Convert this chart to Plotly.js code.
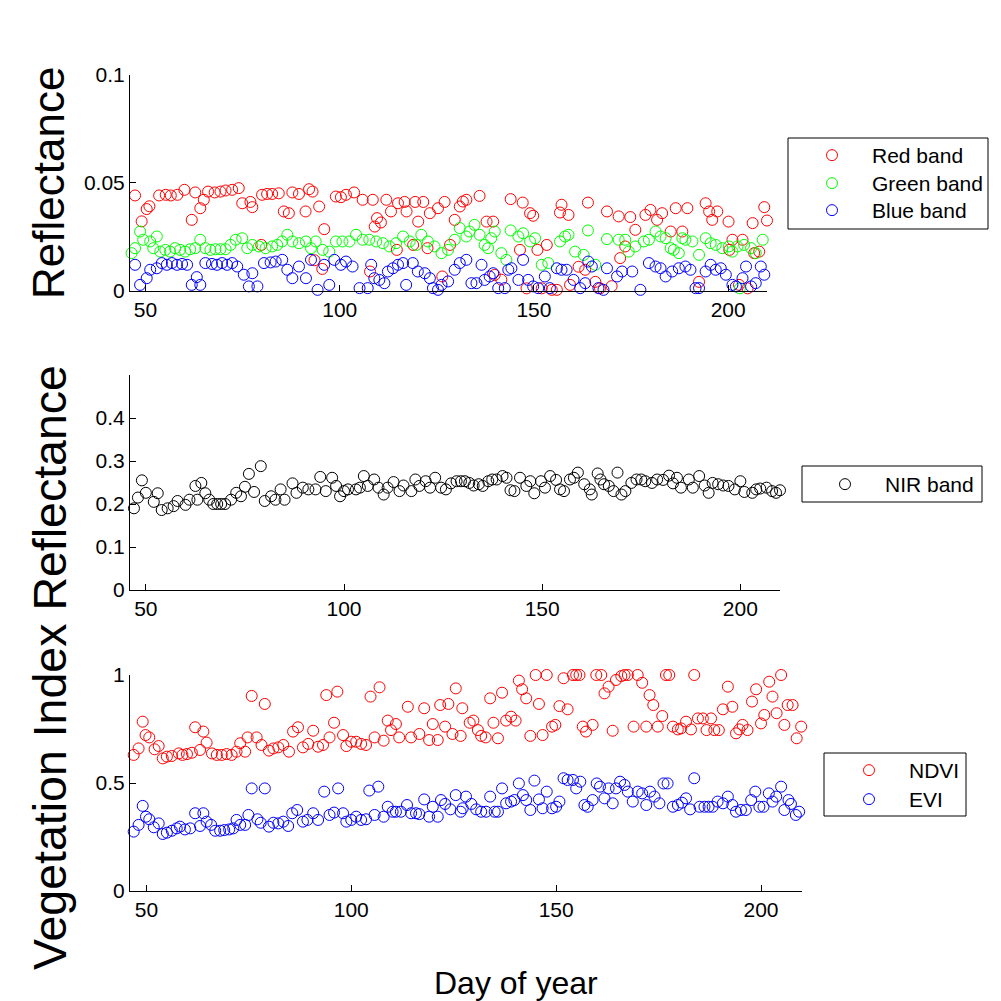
<!DOCTYPE html>
<html>
<head>
<meta charset="utf-8">
<script src="https://cdn.plot.ly/plotly-3.0.1.min.js"></script>
<style>html,body{margin:0;padding:0;background:#fff;}#chart{width:1001px;height:1001px;}</style>
</head>
<body>
<div id="chart"></div>
<script>
// ---------------- DATA ----------------
const xTicks = [50, 100, 150, 200];

const redDay = [47.3,49.0,50.3,51.0,53.5,55.2,56.5,58.2,60.0,61.9,62.8,64.1,65.0,66.1,67.8,69.3,70.6,72.3,74.0,74.9,77.0,77.5,79.8,80.0,81.3,82.6,84.3,85.6,86.9,87.8,89.5,91.2,92.1,93.0,93.5,94.7,95.5,96.0,99.0,100.3,101.6,103.7,105.9,107.8,108.5,109.0,109.6,110.6,112.0,113.2,114.7,115.0,116.7,117.2,118.9,119.4,120.2,121.5,122.6,123.2,125.3,126.4,127.0,128.4,129.6,130.9,131.7,132.6,136.0,137.8,139.5,139.9,141.6,144.0,146.4,147.1,148.1,149.0,149.8,150.9,152.0,153.3,154.6,155.9,156.7,157.1,158.9,159.3,161.5,163.2,163.9,165.8,167.0,168.8,170.0,171.8,172.2,173.5,174.8,176.1,178.7,180.0,181.7,183.0,185.2,186.5,188.2,189.5,192.5,194.2,195.1,195.9,197.2,200.1,200.3,201.1,202.8,203.7,205.0,206.3,206.7,208.0,209.3,210.0];
const redVal = [0.044,0.032,0.0377,0.039,0.044,0.0443,0.044,0.0443,0.0466,0.0327,0.0454,0.0381,0.042,0.0458,0.0454,0.0458,0.0463,0.0466,0.0474,0.0404,0.041,0.0386,0.0211,0.0443,0.0447,0.0447,0.045,0.0366,0.0358,0.0454,0.0447,0.0366,0.0469,0.0458,0.014,0.0389,0.010,0.0284,0.0435,0.0432,0.0443,0.0454,0.042,0.0088,0.042,0.0296,0.0335,0.0315,0.042,0.0366,0.0188,0.0404,0.041,0.0366,0.0211,0.041,0.0319,0.041,0.0196,0.0358,0.0381,0.0065,0.041,0.0211,0.0327,0.0389,0.0412,0.042,0.0438,0.0319,0.0319,0.0072,0.005,0.0423,0.0188,0.0407,0.001,0.0358,0.0346,0.0188,0.001,0.0211,0.0003,0.0003,0.0361,0.0397,0.035,0.0026,0.011,0.0096,0.0407,0.004,0.001,0.0366,0.002,0.0343,0.015,0.0204,0.034,0.0281,0.035,0.0373,0.0327,0.0358,0.0273,0.0381,0.0273,0.0381,0.004,0.0404,0.0366,0.0327,0.0366,0.0319,0.0188,0.0235,0.0026,0.0235,0.001,0.0312,0.0173,0.018,0.0386,0.0324];

const greenDay = [46.4,47.3,48.6,49.4,51.2,52.0,52.9,53.8,55.1,56.3,57.6,58.9,60.2,61.5,62.8,64.1,65.4,66.7,68.0,69.3,70.6,71.9,73.2,74.9,76.2,77.5,79.2,80.9,82.6,83.9,85.2,86.5,87.8,89.5,91.3,92.6,93.8,95.6,97.3,99.0,100.7,102.5,104.2,105.9,107.6,109.4,111.1,112.8,114.5,116.3,118.0,119.7,121.0,122.7,124.4,126.2,127.9,129.6,130.9,132.6,133.4,134.7,136.0,137.3,138.2,139.0,139.9,141.6,142.9,144.0,146.0,147.2,149.0,150.3,152.0,153.7,156.7,158.0,158.9,160.6,162.8,163.9,165.8,168.8,171.8,173.5,174.4,176.1,178.3,179.6,181.3,182.6,183.9,185.2,186.0,187.3,188.2,189.0,190.8,192.5,194.2,195.5,196.8,198.5,200.2,201.1,202.4,203.0,204.1,205.9,207.1,208.9,210.2];
const greenVal = [0.0173,0.0196,0.0273,0.0235,0.0227,0.0196,0.025,0.018,0.0188,0.018,0.0196,0.0188,0.018,0.0191,0.0196,0.0235,0.0196,0.0188,0.0191,0.0191,0.0191,0.0211,0.0235,0.0242,0.0196,0.0211,0.0204,0.0196,0.0204,0.0211,0.0227,0.0258,0.0227,0.0219,0.0227,0.0196,0.0227,0.0188,0.018,0.0227,0.0227,0.0227,0.0258,0.0235,0.0235,0.0227,0.0219,0.0204,0.0219,0.025,0.0227,0.0211,0.0258,0.0227,0.0204,0.0173,0.0188,0.0235,0.0289,0.025,0.0273,0.0304,0.0258,0.0211,0.0196,0.0242,0.0273,0.0173,0.0142,0.0278,0.025,0.0265,0.0227,0.0242,0.0119,0.0127,0.0227,0.025,0.0258,0.018,0.0165,0.0278,0.0119,0.0238,0.0235,0.0235,0.018,0.0204,0.0227,0.0235,0.0273,0.025,0.0242,0.0196,0.0188,0.0173,0.0242,0.0235,0.0227,0.0165,0.0242,0.0219,0.0211,0.0196,0.0204,0.018,0.0204,0.001,0.0211,0.0196,0.0173,0.0235,0.0235];

const blueDay = [47.3,48.6,50.3,51.2,52.9,54.2,55.5,56.8,58.1,59.4,60.7,61.9,63.2,64.1,65.4,67.1,68.4,69.7,71.0,72.3,73.6,75.3,76.6,77.5,78.8,80.5,82.2,83.5,85.2,86.5,87.8,89.5,91.3,92.6,94.3,96.0,97.3,98.6,100.3,101.6,103.3,105.1,107.2,108.1,108.9,110.2,111.5,112.4,113.7,115.0,116.3,117.1,118.8,120.1,121.9,123.2,124.0,125.3,126.2,127.9,129.6,130.9,132.6,133.9,135.2,136.5,137.3,138.6,139.5,140.8,142.5,143.4,144.2,146.0,147.2,148.5,149.8,151.1,152.8,154.1,155.9,157.1,158.4,160.2,161.9,163.2,164.0,164.9,166.6,167.9,168.8,171.4,172.7,175.3,177.4,179.6,181.3,182.6,183.9,185.6,187.3,189.0,190.3,191.6,192.5,194.2,195.5,196.8,198.1,199.4,201.1,202.0,203.7,204.6,205.9,207.1,208.4,209.3,210.2];
const blueVal = [0.0119,0.0026,0.0057,0.0096,0.0103,0.0127,0.0119,0.0127,0.0119,0.0123,0.0119,0.0026,0.0062,0.0026,0.0127,0.0123,0.0119,0.0127,0.0119,0.0127,0.0111,0.0073,0.0019,0.008,0.0019,0.0127,0.013,0.0134,0.0142,0.0096,0.0057,0.0111,0.0057,0.0142,0.0003,0.0119,0.0026,0.0142,0.0119,0.0134,0.0111,0.0011,0.0011,0.0119,0.0057,0.0049,0.0034,0.0088,0.0103,0.0119,0.0127,0.0026,0.0127,0.0088,0.008,0.0057,0.0011,0.0003,0.0026,0.0042,0.0096,0.0127,0.0142,0.0034,0.0034,0.0119,0.0049,0.0065,0.008,0.0011,0.0011,0.0096,0.0103,0.0049,0.0142,0.0049,0.0019,0.0011,0.0065,0.0011,0.0103,0.0096,0.0096,0.0049,0.0011,0.0034,0.0134,0.0111,0.0011,0.0003,0.0103,0.0065,0.0088,0.0088,0.0003,0.0127,0.0111,0.0103,0.0065,0.0088,0.0103,0.0111,0.0096,0.0011,0.0011,0.0088,0.0119,0.0096,0.0103,0.0073,0.0026,0.0019,0.0057,0.0111,0.0019,0.0034,0.0111,0.0073,0.0049];

const nirDay = [47,48,49,50,52,53,54,55.5,57,58,60,61,62.5,63,64,65,66,67,68,69,70,71.5,72.8,74,75,76,77.3,79,80,81.6,82.7,84,85,87,88,89.6,91,92.8,94,95.4,97,98,99,100,101,103,104,105,106,107.6,108.7,110,111,112.5,114,115,117,118,119,120.6,121.7,123,124.5,125.7,127,128.4,129.5,130.5,131.6,132.7,134,135,136.4,137.4,138.5,140,141,142,143,144.4,146,147,148,149.7,150.7,152,153.5,154.5,155.5,157,158,159,160.6,162,162.5,164,164.7,165.6,166.8,168,169,170,171,172.5,173.8,175,176,177.7,179,180.5,182,183,184,185,187,188,189.6,191,192,193,194.4,195.7,197,198.6,200,201,203,204,205,206.6,208,209,210];
const nirVal = [0.19,0.215,0.255,0.226,0.205,0.225,0.186,0.19,0.195,0.207,0.198,0.21,0.242,0.21,0.249,0.225,0.21,0.2,0.2,0.2,0.2,0.21,0.226,0.218,0.24,0.27,0.228,0.288,0.207,0.218,0.21,0.234,0.21,0.248,0.226,0.238,0.234,0.234,0.263,0.23,0.261,0.242,0.218,0.23,0.234,0.234,0.238,0.265,0.242,0.257,0.238,0.222,0.238,0.251,0.23,0.243,0.23,0.257,0.242,0.253,0.238,0.261,0.238,0.234,0.248,0.253,0.253,0.253,0.249,0.243,0.246,0.242,0.253,0.257,0.257,0.265,0.261,0.232,0.23,0.261,0.242,0.253,0.225,0.253,0.238,0.265,0.256,0.234,0.23,0.257,0.261,0.273,0.246,0.234,0.222,0.271,0.257,0.246,0.242,0.23,0.273,0.222,0.23,0.249,0.257,0.257,0.253,0.249,0.257,0.256,0.266,0.248,0.261,0.238,0.257,0.238,0.265,0.243,0.226,0.249,0.246,0.243,0.242,0.234,0.253,0.228,0.226,0.234,0.236,0.238,0.23,0.226,0.232];

const ndviDay = [46.9,48.1,49.1,49.8,50.7,52.0,53.0,54.0,55.0,56.2,57.9,58.8,59.9,61.1,61.9,63.1,63.9,64.7,66.0,67.2,68.4,69.6,70.8,72.0,72.9,74.1,74.7,75.7,76.9,78.1,78.9,79.9,81.0,82.2,83.4,84.8,85.8,87.0,88.2,89.5,90.7,91.9,93.1,93.9,94.7,95.8,96.6,98.0,98.8,100.0,101.2,102.4,103.6,104.7,105.7,106.9,107.9,108.9,109.7,110.9,111.7,113.8,114.6,116.6,117.8,119.0,119.9,121.1,121.7,122.9,123.7,124.7,125.5,126.7,127.1,128.9,129.8,130.9,131.7,132.8,133.9,134.7,135.8,136.8,137.8,139.0,140.1,140.9,141.7,142.7,143.7,145.0,145.8,146.7,147.7,149.0,149.8,150.8,151.8,152.8,154.1,154.9,155.7,156.5,157.3,158.9,159.8,161.0,161.8,162.8,163.8,164.6,165.9,166.7,167.5,168.9,169.9,171.0,172.0,172.8,173.7,174.8,175.9,176.8,177.6,178.5,179.7,180.5,181.7,182.9,183.7,184.6,185.8,186.7,187.8,188.6,189.7,190.7,191.9,193.0,193.9,194.7,195.5,196.7,197.8,198.8,200.0,200.8,202.0,202.8,203.8,204.9,205.7,206.5,207.7,208.7,209.8];
const ndviVal = [0.63,0.66,0.784,0.722,0.711,0.656,0.671,0.614,0.622,0.625,0.637,0.63,0.634,0.64,0.758,0.653,0.738,0.687,0.637,0.63,0.63,0.634,0.63,0.645,0.684,0.645,0.711,0.903,0.711,0.676,0.866,0.65,0.66,0.665,0.676,0.645,0.738,0.758,0.665,0.681,0.742,0.668,0.676,0.907,0.711,0.779,0.923,0.722,0.671,0.691,0.691,0.681,0.676,0.9,0.711,0.943,0.696,0.789,0.745,0.773,0.711,0.853,0.711,0.727,0.846,0.699,0.773,0.699,0.861,0.761,0.866,0.727,0.938,0.718,0.846,0.779,0.789,0.745,0.718,0.711,0.892,0.779,0.707,0.918,0.789,0.807,0.789,0.974,0.934,0.892,0.718,1.0,0.866,0.722,1.0,0.761,0.769,0.856,0.985,0.841,1.0,1.0,1.0,0.761,0.738,0.769,1.0,1.0,0.915,0.946,0.742,0.977,0.995,1.0,1.0,0.761,1.0,0.964,0.761,0.907,0.861,0.761,0.81,1.0,1.0,0.761,0.748,0.753,0.784,0.748,1.0,0.799,0.799,0.745,0.799,0.745,0.745,0.841,0.946,0.853,0.73,0.748,0.769,0.745,0.877,0.934,0.776,0.815,0.969,0.9,0.823,1.0,0.769,0.861,0.861,0.707,0.761];

const eviDay = [46.9,48.1,49.1,49.9,50.7,51.8,53.0,54.0,55.0,56.2,57.4,58.2,59.4,60.7,61.9,63.1,63.9,64.7,65.8,66.8,68.0,69.0,70.2,71.2,72.0,72.9,74.1,74.9,75.7,77.1,77.9,78.9,79.9,81.0,82.2,83.4,84.6,85.6,86.8,88.2,89.3,90.7,91.9,93.4,94.7,95.8,96.8,98.0,98.8,100.0,101.2,102.4,103.6,104.4,105.7,106.6,107.9,108.9,110.1,110.9,112.1,113.6,114.6,115.8,116.6,117.8,119.0,119.9,121.1,121.9,122.9,124.2,125.5,126.7,127.2,128.0,129.3,130.5,131.7,132.9,133.9,135.0,135.8,136.8,137.8,139.0,139.8,140.9,141.9,142.7,143.7,144.7,145.8,146.7,147.7,149.0,150.0,150.8,151.8,152.8,154.1,154.9,155.9,156.9,157.7,158.9,159.9,160.7,161.8,162.8,163.8,164.6,165.6,166.7,167.5,168.7,169.9,171.0,172.0,172.9,174.0,175.2,176.2,177.2,178.5,179.7,180.7,181.7,182.7,183.7,185.0,186.2,187.2,188.2,189.4,190.7,191.9,193.0,193.9,195.1,196.3,197.6,198.6,199.6,200.6,201.9,202.8,203.7,204.9,205.7,206.7,207.3,208.5,209.3];
const eviVal = [0.275,0.306,0.394,0.344,0.332,0.295,0.313,0.264,0.27,0.279,0.29,0.298,0.285,0.29,0.36,0.301,0.36,0.321,0.306,0.279,0.279,0.282,0.285,0.29,0.329,0.306,0.306,0.352,0.475,0.332,0.316,0.475,0.298,0.316,0.313,0.321,0.301,0.36,0.375,0.321,0.329,0.36,0.329,0.46,0.352,0.363,0.475,0.36,0.321,0.329,0.344,0.329,0.332,0.465,0.352,0.483,0.344,0.39,0.367,0.367,0.367,0.398,0.36,0.36,0.356,0.424,0.344,0.39,0.344,0.421,0.403,0.378,0.444,0.367,0.383,0.437,0.403,0.378,0.367,0.367,0.437,0.367,0.367,0.475,0.406,0.414,0.421,0.498,0.444,0.421,0.375,0.511,0.424,0.383,0.46,0.383,0.39,0.414,0.522,0.514,0.514,0.475,0.506,0.398,0.39,0.421,0.498,0.483,0.429,0.475,0.406,0.475,0.506,0.491,0.46,0.414,0.46,0.452,0.398,0.46,0.437,0.406,0.498,0.498,0.39,0.398,0.409,0.429,0.378,0.522,0.39,0.39,0.39,0.39,0.414,0.406,0.437,0.398,0.367,0.375,0.375,0.421,0.46,0.39,0.39,0.452,0.414,0.437,0.483,0.375,0.421,0.403,0.352,0.367];

// ---------------- CHART ----------------
const W = 1001, H = 1001;
const px = v => v / W;
const py = v => 1 - v / H;
const FONT = '"Liberation Sans", Arial, sans-serif';

function mk(x, y, name, color, xa, ya, leg) {
  return {
    type: 'scatter', mode: 'markers', x: x, y: y, name: name,
    xaxis: xa, yaxis: ya, legend: leg, cliponaxis: false,
    marker: {symbol: 'circle-open', size: 11, color: color, line: {width: 1, color: color}}
  };
}

const traces = [
  mk(redDay, redVal, 'Red band', '#ff0000', 'x', 'y', 'legend'),
  mk(greenDay, greenVal, 'Green band', '#00ff00', 'x', 'y', 'legend2'),
  mk(blueDay, blueVal, 'Blue band', '#0000ff', 'x', 'y', 'legend3'),
  mk(nirDay, nirVal, 'NIR band', '#000000', 'x2', 'y2', 'legend4'),
  mk(ndviDay, ndviVal, 'NDVI', '#ff0000', 'x3', 'y3', 'legend5'),
  mk(eviDay, eviVal, 'EVI', '#0000ff', 'x3', 'y3', 'legend6')
];

function xa(l, r, anchor) {
  return {
    domain: [px(l), px(r)], anchor: anchor, range: [46, 210],
    tickvals: xTicks, ticks: 'inside', ticklen: 6, tickcolor: '#000',
    showline: true, linecolor: '#000', linewidth: 1, mirror: false,
    showgrid: false, zeroline: false, fixedrange: true,
    tickfont: {family: FONT, size: 21, color: '#000'}
  };
}
function ya(top, bot, anchor, range, tv, tt) {
  return {
    domain: [py(bot), py(top)], anchor: anchor, range: range,
    tickvals: tv, ticktext: tt, ticks: 'inside', ticklen: 6, tickcolor: '#000',
    showline: true, linecolor: '#000', linewidth: 1, mirror: false,
    showgrid: false, zeroline: false, fixedrange: true,
    tickfont: {family: FONT, size: 21, color: '#000'}
  };
}

function leg(markerX, centerY) {
  return {
    x: px(markerX - 40), y: py(centerY - 20), xanchor: 'left', yanchor: 'top',
    bgcolor: 'rgba(0,0,0,0)', borderwidth: 0, itemwidth: 70,
    font: {family: FONT, size: 21, color: '#000'}
  };
}

function box(x0, y0, x1, y1) {
  return {type: 'rect', xref: 'paper', yref: 'paper',
    x0: px(x0), x1: px(x1), y0: py(y1), y1: py(y0),
    line: {color: '#000', width: 1}, fillcolor: '#fff', layer: 'below'};
}

const layout = {
  width: W, height: H,
  margin: {l: 0, r: 0, t: 0, b: 0},
  paper_bgcolor: '#fff', plot_bgcolor: 'rgba(0,0,0,0)',
  font: {family: FONT, color: '#000'},
  showlegend: true,
  xaxis: xa(130, 767, 'y'),
  yaxis: ya(74.5, 290.5, 'x', [0, 0.1], [0, 0.05, 0.1], ['0', '0.05', '0.1']),
  xaxis2: xa(130, 780, 'y2'),
  yaxis2: ya(375, 590, 'x2', [0, 0.5], [0, 0.1, 0.2, 0.3, 0.4], ['0', '0.1', '0.2', '0.3', '0.4']),
  xaxis3: xa(130, 802, 'y3'),
  yaxis3: ya(675, 891, 'x3', [0, 1], [0, 0.5, 1], ['0', '0.5', '1']),
  legend: leg(832, 155),
  legend2: leg(832, 183),
  legend3: leg(832, 210),
  legend4: leg(845, 484),
  legend5: leg(869, 770),
  legend6: leg(869, 799),
  shapes: [
    box(788, 138, 988, 229),
    box(802, 466, 982, 502),
    box(824, 753, 966, 816)
  ],
  annotations: [
    {text: 'Reflectance', xref: 'paper', yref: 'paper', x: px(48), y: py(183),
     xanchor: 'center', yanchor: 'middle', textangle: -90, showarrow: false,
     font: {family: FONT, size: 44, color: '#000'}},
    {text: 'Vegetation Index Reflectance', xref: 'paper', yref: 'paper', x: px(50), y: py(668),
     xanchor: 'center', yanchor: 'middle', textangle: -90, showarrow: false,
     font: {family: FONT, size: 46.5, color: '#000'}},
    {text: 'Day of year', xref: 'paper', yref: 'paper', x: px(516), y: py(983),
     xanchor: 'center', yanchor: 'middle', showarrow: false,
     font: {family: FONT, size: 32, color: '#000'}}
  ]
};

Plotly.newPlot('chart', traces, layout, {displayModeBar: false, staticPlot: true});
</script>
</body>
</html>
